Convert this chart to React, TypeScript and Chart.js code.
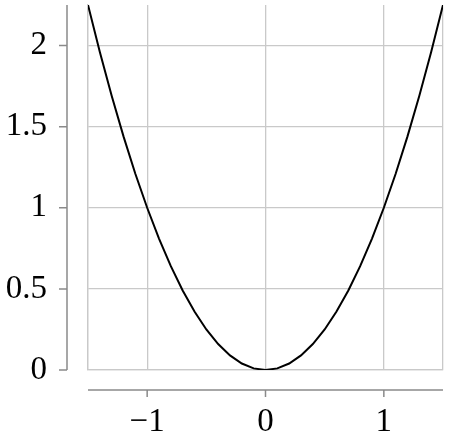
import { useEffect, useRef } from "react"
import { Chart, registerables, type ChartConfiguration, type Plugin } from "chart.js"

Chart.register(...registerables)

// y = x²
const xValues = [
  -1.5, -1.4, -1.3, -1.2, -1.1, -1.0, -0.9, -0.8, -0.7, -0.6, -0.5, -0.4, -0.3, -0.2, -0.1,
  0, 0.1, 0.2, 0.3, 0.4, 0.5, 0.6, 0.7, 0.8, 0.9, 1.0, 1.1, 1.2, 1.3, 1.4, 1.5,
]
const yValues = [
  2.25, 1.96, 1.69, 1.44, 1.21, 1.0, 0.81, 0.64, 0.49, 0.36, 0.25, 0.16, 0.09, 0.04, 0.01,
  0, 0.01, 0.04, 0.09, 0.16, 0.25, 0.36, 0.49, 0.64, 0.81, 1.0, 1.21, 1.44, 1.69, 1.96, 2.25,
]
const xGridTicks = [-1.5, -1, 0, 1, 1.5]
const xLabelTicks = [-1, 0, 1]
const yTicks = [0, 0.5, 1, 1.5, 2]

const FONT = { family: "'Liberation Serif', serif", size: 33 }
const GRID = "#c9c9c9"
const SPINE = "#8a8a8a"

const fmt = (v: number) => (v < 0 ? `\u2212${Math.abs(v)}` : String(v))

// detached axis lines with their tick marks
const spines: Plugin = {
  id: "spines",
  afterDraw(chart) {
    const { ctx, chartArea, scales } = chart
    const xs = scales.x
    const ys = scales.y
    ctx.save()
    ctx.strokeStyle = SPINE
    ctx.lineWidth = 1.5
    ctx.beginPath()
    const sx = chartArea.left - 21
    ctx.moveTo(sx, chartArea.top)
    ctx.lineTo(sx, ys.getPixelForValue(0))
    yTicks.forEach((v) => {
      const py = ys.getPixelForValue(v)
      ctx.moveTo(sx, py)
      ctx.lineTo(sx - 8, py)
    })
    const sy = chartArea.bottom + 20
    ctx.moveTo(chartArea.left, sy)
    ctx.lineTo(chartArea.right, sy)
    xLabelTicks.forEach((v) => {
      const px = xs.getPixelForValue(v)
      ctx.moveTo(px, sy)
      ctx.lineTo(px, sy + 7)
    })
    ctx.stroke()
    ctx.restore()
  },
}

// keep the plot box where the reference has it
const noEdgePadding = (s: any) => {
  s.paddingTop = 0
  s.paddingBottom = 0
  s.paddingLeft = 0
  s.paddingRight = 0
}

export default function App() {
  const canvasRef = useRef<HTMLCanvasElement>(null)
  const chartRef = useRef<Chart | null>(null)

  useEffect(() => {
    document.body.style.margin = "0"
    if (!canvasRef.current) return
    if (chartRef.current) chartRef.current.destroy()

    const config: ChartConfiguration = {
      type: "scatter",
      data: {
        datasets: [
          {
            data: xValues.map((x, i) => ({ x, y: yValues[i] })),
            showLine: true,
            borderColor: "#000",
            borderWidth: 2,
            pointRadius: 0,
            tension: 0,
          },
        ],
      },
      options: {
        responsive: false,
        animation: false,
        layout: { padding: { top: 5, right: 6, left: 0, bottom: 0 } },
        plugins: { legend: { display: false }, tooltip: { enabled: false } },
        scales: {
          x: {
            type: "linear",
            min: -1.5,
            max: 1.5,
            afterBuildTicks: (s) => {
              s.ticks = xGridTicks.map((value) => ({ value }))
            },
            afterFit: (s) => {
              s.height = 67
              noEdgePadding(s)
            },
            grid: { color: GRID, lineWidth: 1.3, drawTicks: false },
            border: { display: true, color: GRID, width: 1.3 },
            ticks: {
              font: FONT,
              color: "#000",
              padding: 33,
              autoSkip: false,
              maxRotation: 0,
              callback: (v) => (xLabelTicks.includes(Number(v)) ? fmt(Number(v)) : ""),
            },
          },
          y: {
            type: "linear",
            min: 0,
            max: 2.25,
            afterBuildTicks: (s) => {
              s.ticks = yTicks.map((value) => ({ value }))
            },
            afterFit: (s) => {
              s.width = 88
              noEdgePadding(s)
            },
            grid: { color: GRID, lineWidth: 1.3, drawTicks: false },
            border: { display: true, color: GRID, width: 1.3 },
            ticks: {
              font: FONT,
              color: "#000",
              padding: 41,
              autoSkip: false,
              callback: (v) => fmt(Number(v)),
            },
          },
        },
      },
      plugins: [spines],
    }

    chartRef.current = new Chart(canvasRef.current, config)

    return () => {
      chartRef.current?.destroy()
      chartRef.current = null
    }
  }, [])

  return <canvas ref={canvasRef} width={449} height={437} />
}
